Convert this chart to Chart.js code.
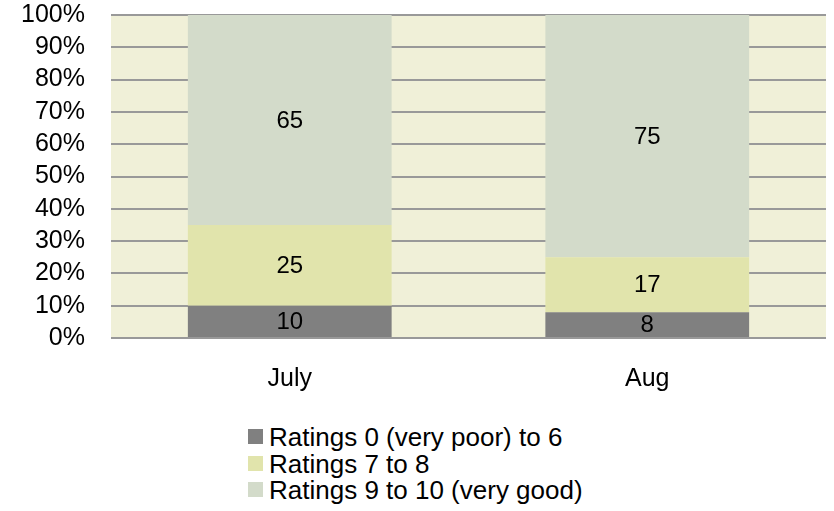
<!DOCTYPE html>
<html>
<head>
<meta charset="utf-8">
<script src="https://cdn.jsdelivr.net/npm/chart.js@4.4.3/dist/chart.umd.min.js"></script>
<style>
    html, body { margin: 0; padding: 0; background: #fff; }
    #wrap { position: relative; width: 834px; height: 511px; }
    #chart-box { position: absolute; left: 0; top: 0; width: 834px; height: 400px; }
    #legend { position: absolute; left: 248px; top: 424px; font-family: "Liberation Sans", Arial, sans-serif; font-size: 26px; color: #000; }
    #legend div { position: relative; height: 26.7px; line-height: 26.7px; padding-left: 21px; white-space: nowrap; }
    #legend span { position: absolute; left: 0; top: 5px; width: 15px; height: 15px; }
</style>
</head>
<body>
<div id="wrap">
    <div id="chart-box"><canvas id="c"></canvas></div>
    <div id="legend"></div>
</div>
<script>
const months = ['July', 'Aug'];
const seriesNames = ['Ratings 0 (very poor) to 6', 'Ratings 7 to 8', 'Ratings 9 to 10 (very good)'];
const poorRatings = [10, 8];
const midRatings = [25, 17];
const goodRatings = [65, 75];
const yTicks = [0, 10, 20, 30, 40, 50, 60, 70, 80, 90, 100];
const seriesColors = ['#808080', '#E1E4AC', '#D3DBCA'];

const FONT = '"Liberation Sans", Arial, sans-serif';

// plot background
const plotBg = {
    id: 'plotBg',
    beforeDraw(chart) {
        const { ctx, chartArea: a } = chart;
        ctx.save();
        ctx.fillStyle = '#F0F0D8';
        ctx.fillRect(a.left, a.top, a.right - a.left, a.bottom - a.top);
        ctx.restore();
    }
};

// value labels in the middle of each segment
const valueLabels = {
    id: 'valueLabels',
    afterDatasetsDraw(chart) {
        const ctx = chart.ctx;
        ctx.save();
        ctx.font = '24px ' + FONT;
        ctx.fillStyle = '#000';
        ctx.textAlign = 'center';
        ctx.textBaseline = 'middle';
        chart.data.datasets.forEach((ds, i) => {
            chart.getDatasetMeta(i).data.forEach((bar, j) => {
                const p = bar.getProps(['x', 'y', 'base'], true);
                ctx.fillText(String(ds.data[j]), p.x, (p.y + p.base) / 2 + 1);
            });
        });
        ctx.restore();
    }
};

const datasets = [poorRatings, midRatings, goodRatings].map((vals, i) => ({
    label: seriesNames[i],
    data: vals,
    backgroundColor: seriesColors[i],
    borderWidth: 0,
    barPercentage: 0.57,
    categoryPercentage: 1
}));

const chart = new Chart(document.getElementById('c'), {
    type: 'bar',
    data: { labels: months, datasets: datasets },
    options: {
        responsive: true,
        maintainAspectRatio: false,
        animation: false,
        layout: { padding: { top: 2, right: 8, left: 0, bottom: 0 } },
        plugins: {
            legend: { display: false },
            tooltip: { enabled: false }
        },
        scales: {
            x: {
                stacked: true,
                grid: { display: false },
                border: { display: false },
                ticks: { color: '#000', padding: 18, font: { size: 25, family: FONT } },
                afterFit(scale) { scale.height = 62; }
            },
            y: {
                stacked: true,
                min: 0,
                max: 100,
                afterBuildTicks(scale) { scale.ticks = yTicks.map(v => ({ value: v })); },
                // invisible tick marks keep the labels 26px off the plot
                grid: { color: '#999999', lineWidth: 2, tickLength: 26, tickColor: 'rgba(0,0,0,0)' },
                border: { display: false },
                ticks: {
                    color: '#000',
                    padding: 0,
                    autoSkip: false,
                    font: { size: 25, family: FONT },
                    callback: v => v + '%'
                },
                afterFit(scale) { scale.width = 111; }
            }
        }
    },
    plugins: [plotBg, valueLabels]
});

// legend as a vertical list
const legend = document.getElementById('legend');
chart.data.datasets.forEach(ds => {
    const row = document.createElement('div');
    const box = document.createElement('span');
    box.style.background = ds.backgroundColor;
    row.appendChild(box);
    row.appendChild(document.createTextNode(ds.label));
    legend.appendChild(row);
});
</script>
</body>
</html>
